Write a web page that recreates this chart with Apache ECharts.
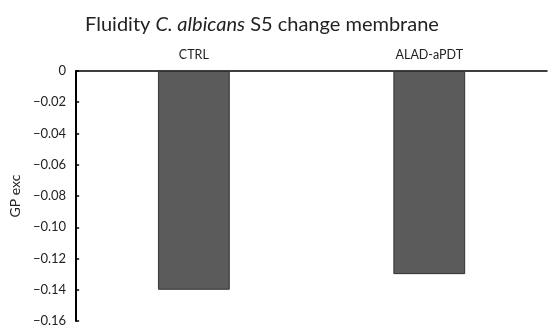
<!DOCTYPE html>
<html>
<head>
<meta charset="utf-8">
<script src="https://cdn.jsdelivr.net/npm/echarts@6/dist/echarts.min.js"></script>
<style>
  html, body { margin: 0; padding: 0; background: #fff; }
  #chart { width: 550px; height: 336px; }
</style>
</head>
<body>
<div id="chart"></div>
<script>
const categories = ["CTRL", "ALAD-aPDT"];
const gpValues = [-0.14, -0.13];
const yTicks = { min: -0.16, max: 0, step: 0.02 };

const chart = echarts.init(document.getElementById("chart"));
const font = "Lato, 'Open Sans', sans-serif";

chart.setOption({
  animation: false,
  title: {
    text: "{n|Fluidity }{i|C. albicans}{n| S5 change membrane}",
    left: 257,
    textAlign: "center",
    top: 10,
    textStyle: {
      rich: {
        n: { fontFamily: font, fontSize: 20, color: "#222", fontWeight: "normal" },
        i: { fontFamily: font, fontSize: 20, color: "#222", fontStyle: "italic", fontWeight: "normal" }
      }
    }
  },
  grid: { left: 72, right: 3, top: 71, bottom: 15 },
  xAxis: {
    type: "category",
    position: "top",
    data: categories,
    axisLine: { lineStyle: { color: "#000", width: 1.5 } },
    axisTick: { show: false },
    axisLabel: { fontFamily: font, fontSize: 12.5, color: "#222", margin: 10 }
  },
  yAxis: {
    type: "value",
    min: yTicks.min,
    max: yTicks.max,
    interval: yTicks.step,
    name: "GP exc",
    nameLocation: "middle",
    nameGap: 42,
    nameTextStyle: { fontFamily: font, fontSize: 14, color: "#222" },
    splitLine: { show: false },
    axisLine: { show: true, lineStyle: { color: "#000", width: 2 } },
    axisTick: { show: true, inside: true, length: 3, lineStyle: { color: "#000", width: 1.5 } },
    axisLabel: {
      fontFamily: font,
      fontSize: 13,
      color: "#222",
      margin: 10,
      formatter: v => v === 0 ? "0" : "\u2212" + Math.abs(v).toFixed(2)
    }
  },
  series: [{
    type: "bar",
    data: gpValues,
    barWidth: "30.5%",
    itemStyle: { color: "#5b5b5b", borderColor: "#333", borderWidth: 1 }
  }]
});
</script>
</body>
</html>
